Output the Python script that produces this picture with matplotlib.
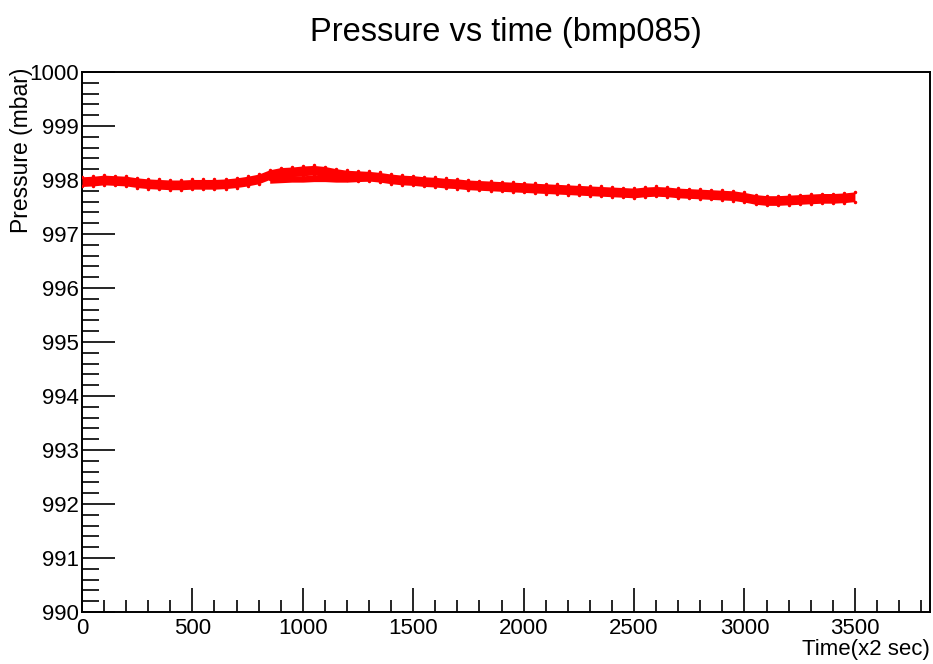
import numpy as np
import matplotlib.pyplot as plt
from matplotlib.ticker import MultipleLocator

plt.rcParams['font.family'] = ['Liberation Sans', 'DejaVu Sans']

time = np.arange(0, 3501, 50)
pressure = [997.97, 997.98, 998.00, 997.99, 997.98, 997.95, 997.93, 997.92, 997.91, 997.91,
            997.92, 997.92, 997.92, 997.93, 997.95, 997.98, 998.02, 998.10, 998.14, 998.15,
            998.17, 998.18, 998.16, 998.12, 998.09, 998.08, 998.07, 998.05, 998.02, 998.00,
            997.99, 997.97, 997.96, 997.94, 997.93, 997.91, 997.90, 997.89, 997.88, 997.87,
            997.86, 997.85, 997.84, 997.83, 997.82, 997.81, 997.80, 997.79, 997.78, 997.77,
            997.76, 997.78, 997.79, 997.78, 997.76, 997.75, 997.74, 997.73, 997.72, 997.71,
            997.68, 997.64, 997.62, 997.62, 997.63, 997.64, 997.65, 997.66, 997.66, 997.67,
            997.69]
# second, lower strand seen around 850-1300
time2 = [850, 900, 950, 1000, 1050, 1100, 1150, 1200, 1250, 1300]
pressure2 = [998.00, 998.01, 998.02, 998.02, 998.03, 998.03, 998.02, 998.02, 998.03, 998.04]
spread = 0.09

fig = plt.figure(figsize=(9.33, 6.64), dpi=100)
ax = fig.add_axes([82/933, 1-612/664, (930-82)/933, (612-72)/664])

p = np.array(pressure)
ax.fill_between(time, p - spread, p + spread, color='red', lw=0, zorder=3)
ax.plot(time, p + spread, '.', color='red', ms=3, zorder=3)
ax.plot(time, p - spread, '.', color='red', ms=3, zorder=3)
p2 = np.array(pressure2)
ax.fill_between(time2, p2 - 0.06, p2 + 0.06, color='red', lw=0, zorder=3)

ax.set_xlim(0, 3840)
ax.set_ylim(990, 1000)
ax.xaxis.set_major_locator(MultipleLocator(500))
ax.xaxis.set_minor_locator(MultipleLocator(100))
ax.yaxis.set_major_locator(MultipleLocator(1))
ax.yaxis.set_minor_locator(MultipleLocator(0.2))
ax.tick_params(which='both', direction='in', top=False, right=False, labelsize=16, width=1.2)
ax.tick_params(axis='x', which='major', length=17, pad=4)
ax.tick_params(axis='x', which='minor', length=9)
ax.tick_params(axis='y', which='major', length=24, pad=2)
ax.tick_params(axis='y', which='minor', length=12)
for s in ax.spines.values():
    s.set_linewidth(1.4)

ax.set_title('Pressure vs time (bmp085)', fontsize=23.5, pad=22)
ax.set_xlabel('Time(x2 sec)', fontsize=16, loc='right', labelpad=0)
fig.text(22/933, 1 - 68/664, 'Pressure (mbar)', fontsize=16.5, rotation=90,
         ha='center', va='top')

fig.savefig('out.png', dpi=100)
